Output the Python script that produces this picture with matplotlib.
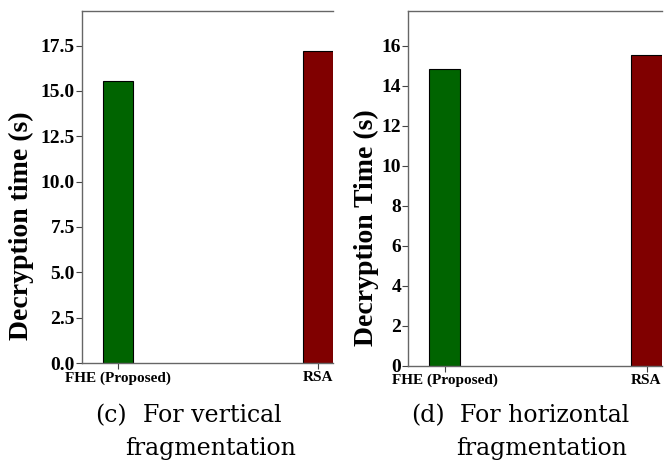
import matplotlib
matplotlib.use("Agg")
import matplotlib.pyplot as plt
import numpy as np

categories = ["FHE (Proposed)", "RSA"]
vertical_times = [15.55, 17.23]
horizontal_times = [14.83, 15.53]
bar_colors = ["#006400", "#800000"]
vertical_yticks = [0.0, 2.5, 5.0, 7.5, 10.0, 12.5, 15.0, 17.5]
horizontal_yticks = [0, 2, 4, 6, 8, 10, 12, 14, 16]

W, H = 672, 463
fig = plt.figure(figsize=(W / 100, H / 100), dpi=100)

serif = ["Liberation Serif", "DejaVu Serif"]
cap_font = ["DejaVu Serif"]


def px_axes(x0, x1, ytop, ybot):
    return fig.add_axes([x0 / W, (H - ybot) / H, (x1 - x0) / W, (ybot - ytop) / H])


def style(ax, values, ylim, xlim, yticks, fmt, ylabel):
    x = np.arange(len(categories))
    ax.bar(x, values, width=0.153, color=bar_colors, edgecolor="black", linewidth=0.8)
    ax.set_xlim(*xlim)
    ax.set_ylim(0, ylim)
    ax.set_xticks(x)
    ax.set_xticklabels(categories, fontfamily=serif, fontweight="bold", fontsize=11)
    ax.set_yticks(yticks)
    ax.set_yticklabels([fmt.format(v) for v in yticks], fontfamily=serif,
                       fontweight="bold", fontsize=14)
    ax.set_ylabel(ylabel, fontfamily=serif, fontweight="bold", fontsize=20)
    ax.spines["right"].set_visible(False)
    for s in ["left", "top", "bottom"]:
        ax.spines[s].set_color("#666666")
        ax.spines[s].set_linewidth(1.0)
    ax.tick_params(axis="both", color="#444444", length=4, width=0.8, pad=1)
    ax.tick_params(axis="x", pad=2)
    return ax


ax1 = px_axes(82, 333, 11, 363)
style(ax1, vertical_times, 19.41, (-0.18, 1.075), vertical_yticks, "{:.1f}",
      "Decryption time (s)")
ax1.yaxis.set_label_coords(-0.19, 0.39)

ax2 = px_axes(408, 662, 11, 365.5)
style(ax2, horizontal_times, 17.73, (-0.1807, 1.0767), horizontal_yticks, "{:d}",
      "Decryption Time (s)")
ax2.yaxis.set_label_coords(-0.115, 0.39)

# sub-captions
fig.text(95 / W, 1 - 422 / H, "(c)", fontfamily=cap_font, fontsize=17, ha="left", va="baseline")
fig.text(212 / W, 1 - 422 / H, "For vertical", fontfamily=cap_font, fontsize=17, ha="center", va="baseline")
fig.text(211 / W, 1 - 455 / H, "fragmentation", fontfamily=cap_font, fontsize=17, ha="center", va="baseline")

fig.text(411 / W, 1 - 422 / H, "(d)", fontfamily=cap_font, fontsize=17, ha="left", va="baseline")
fig.text(545 / W, 1 - 422 / H, "For horizontal", fontfamily=cap_font, fontsize=17, ha="center", va="baseline")
fig.text(542 / W, 1 - 455 / H, "fragmentation", fontfamily=cap_font, fontsize=17, ha="center", va="baseline")

fig.savefig("out.png", dpi=100)
